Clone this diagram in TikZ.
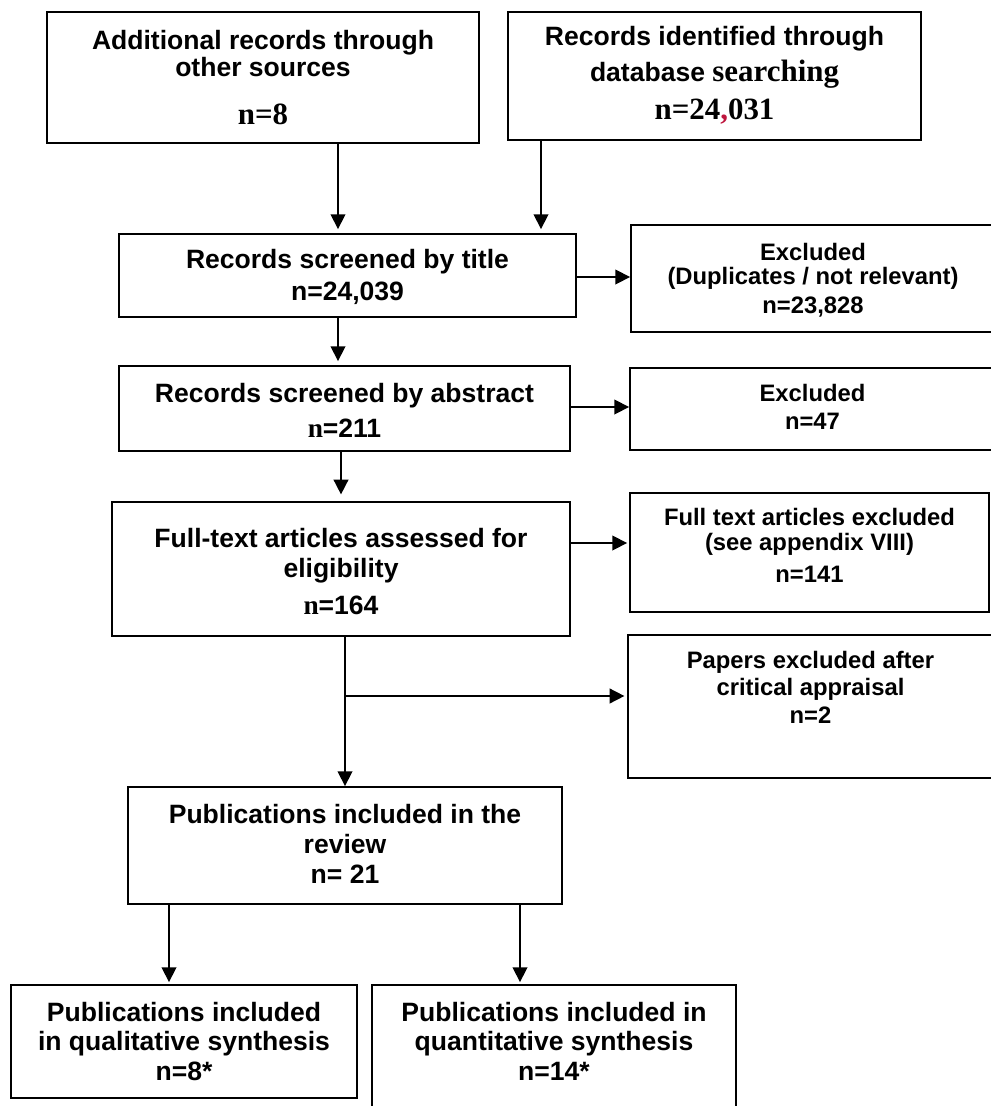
\documentclass[tikz,border=0pt]{standalone}
\usepackage{fontspec}
\setmainfont{Liberation Sans}
\newfontfamily\tnr{Liberation Serif}
\usetikzlibrary{arrows.meta,fit}
\definecolor{trk}{RGB}{190,20,60}
\newcommand\txtM{\fontsize{19.9}{23}\selectfont\bfseries}
\newcommand\txtX{\fontsize{17.85}{21}\selectfont\bfseries}
\newcommand\txtS{\tnr\fontsize{23.2}{27}\selectfont\bfseries}
\newcommand\txtN{\tnr\fontsize{20.5}{24}\selectfont\bfseries}
\tikzset{
  box/.style={draw=black, line width=1.4pt, inner sep=0pt, rectangle},
  tm/.style={anchor=base, inner sep=0pt, font=\txtM},
  tx/.style={anchor=base, inner sep=0pt, font=\txtX},
  ts/.style={anchor=base, inner sep=0pt, font=\txtS},
  arr/.style={line width=1.2pt, -{Triangle[length=11pt,width=11pt]}},
}
\begin{document}
\begin{tikzpicture}[x=0.75pt,y=-0.75pt]
\useasboundingbox (0,0) rectangle (991,1106);
\clip (0,0) rectangle (991,1106);
% boxes
\node[box, fit={(47,12) (479,143)}] (A) {};
\node[box, fit={(508,12) (921,140)}] (B) {};
\node[box, fit={(119,234) (576,317)}] (C) {};
\node[box, fit={(631,225) (995,332)}] (X1) {};
\node[box, fit={(119,366) (570,451)}] (D) {};
\node[box, fit={(630,368) (995,450)}] (X2) {};
\node[box, fit={(112,502) (570,636)}] (E) {};
\node[box, fit={(630,493) (989,612)}] (X3) {};
\node[box, fit={(628,635) (995,778)}] (X4) {};
\node[box, fit={(128,787) (562,904)}] (F) {};
\node[box, fit={(11,985) (357,1098)}] (G) {};
\node[box, fit={(372,985) (736,1115)}] (H) {};
% texts
\node[tm] (A1) at (263,50) {Additional records through};
\node[tm] (A2) at (263,77) {other sources};
\node[ts] (A3) at (263,124) {n=8};
\node[tm] (B1) at (714.5,46) {Records identified through};
\node[tm] (B2) at (714.5,82) {database {\txtS searching}};
\node[ts] (B3) at (714.5,119) {n=24{\color{trk},}031};
\node[tm] (C1) at (347.5,268) {Records screened by title};
\node[tm] (C2) at (347.5,300) {n=24,039};
\node[tx] (X1a) at (813,260) {Excluded};
\node[tx] (X1b) at (813,284) {(Duplicates / not relevant)};
\node[tx] (X1c) at (813,313) {n=23,828};
\node[tm] (D1) at (344.5,402) {Records screened by abstract};
\node[tm] (D2) at (344.5,437) {{\txtN n}=211};
\node[tx] (X2a) at (812.5,401) {Excluded};
\node[tx] (X2b) at (812.5,429) {n=47};
\node[tm] (E1) at (341,547) {Full-text articles assessed for};
\node[tm] (E2) at (341,577) {eligibility};
\node[tm] (E3) at (341,614) {{\txtN n}=164};
\node[tx] (X3a) at (809.5,525) {Full text articles excluded};
\node[tx] (X3b) at (809.5,550) {(see appendix VIII)};
\node[tx] (X3c) at (809.5,582) {n=141};
\node[tx] (X4a) at (810.5,668) {Papers excluded after};
\node[tx] (X4b) at (810.5,695) {critical appraisal};
\node[tx] (X4c) at (810.5,723) {n=2};
\node[tm] (F1) at (345,823) {Publications included in the};
\node[tm] (F2) at (345,853) {review};
\node[tm] (F3) at (345,883) {n= 21};
\node[tm] (G1) at (184,1021) {Publications included};
\node[tm] (G2) at (184,1050) {in qualitative synthesis};
\node[tm] (G3) at (184,1080) {n=8*};
\node[tm] (H1) at (554,1021) {Publications included in};
\node[tm] (H2) at (554,1050) {quantitative synthesis};
\node[tm] (H3) at (554,1080) {n=14*};
% connector coordinates
\coordinate (xa) at (338,0);
\coordinate (xb) at (541,0);
\coordinate (xd) at (341,0);
\coordinate (xe) at (345,0);
\coordinate (xg) at (169,0);
\coordinate (xh) at (520,0);
\coordinate (y1) at (0,277);
\coordinate (y2) at (0,407);
\coordinate (y3) at (0,543);
\coordinate (br) at (345,696);
% connectors
\draw[arr, shorten >=3pt] (A.south -| xa) -- (C.north -| xa);
\draw[arr, shorten >=3pt] (B.south -| xb) -- (C.north -| xb);
\draw[arr, shorten >=3pt] (C.south -| xa) -- (D.north -| xa);
\draw[arr] (C.east |- y1) -- (X1.west |- y1);
\draw[arr] (D.east |- y2) -- (X2.west |- y2);
\draw[arr, shorten >=5pt] (D.south -| xd) -- (E.north -| xd);
\draw[arr, shorten >=1.5pt] (E.east |- y3) -- (X3.west |- y3);
\draw[arr] (E.south -| xe) -- (F.north -| xe);
\draw[arr, shorten >=2pt] (br) -- (X4.west |- br);
\draw[arr, shorten >=1.5pt] (F.south -| xg) -- (G.north -| xg);
\draw[arr, shorten >=1.5pt] (F.south -| xh) -- (H.north -| xh);
\end{tikzpicture}
\end{document}
